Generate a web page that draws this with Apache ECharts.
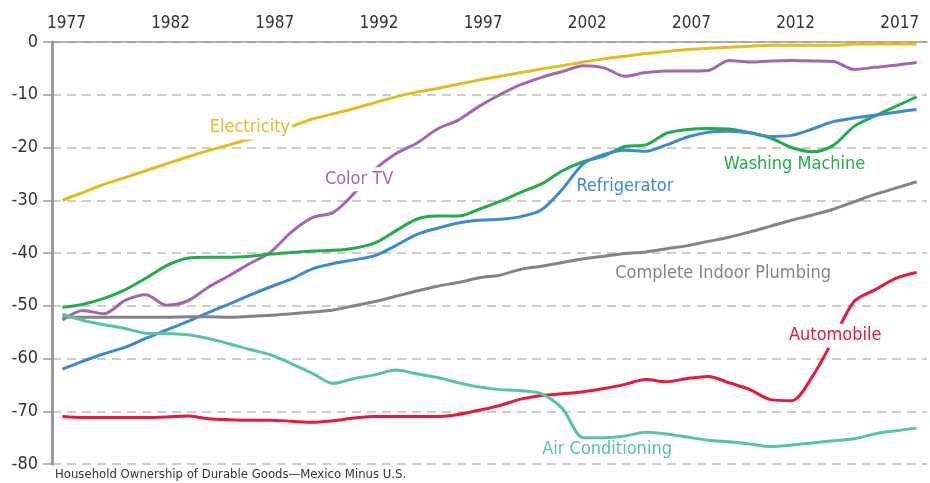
<!DOCTYPE html>
<html lang="en">
<head>
<meta charset="utf-8">
<script src="https://cdn.jsdelivr.net/npm/echarts@6/dist/echarts.min.js"></script>
<style>
  html, body { margin: 0; padding: 0; background: #fff; }
  #main { width: 930px; height: 483px; }
</style>
</head>
<body>
<div id="main"></div>
<script>
// years on the x axis
var years = ['1977','1978','1979','1980','1981','1982','1983','1984','1985','1986',
  '1987','1988','1989','1990','1991','1992','1993','1994','1995','1996',
  '1997','1998','1999','2000','2001','2002','2003','2004','2005','2006',
  '2007','2008','2009','2010','2011','2012','2013','2014','2015','2016',
  '2017','2018'];

// Mexico minus U.S., percentage points
var electricity = [-30.0,-28.5,-27.0,-25.7,-24.4,-23.1,-21.8,-20.6,-19.5,-18.4,
  -17.2,-16.0,-14.6,-13.6,-12.6,-11.5,-10.4,-9.5,-8.8,-8.0,
  -7.2,-6.5,-5.8,-5.1,-4.5,-3.8,-3.2,-2.7,-2.2,-1.8,
  -1.4,-1.2,-1.0,-0.8,-0.6,-0.6,-0.6,-0.6,-0.4,-0.4,
  -0.4,-0.4];
var colorTV = [-52.7,-50.9,-51.5,-49.0,-47.9,-49.9,-49.1,-46.5,-44.3,-42.0,
  -39.8,-36.0,-33.3,-32.3,-28.7,-24.2,-21.2,-19.2,-16.5,-14.8,
  -12.2,-10.0,-8.1,-6.7,-5.6,-4.5,-4.9,-6.5,-5.8,-5.5,
  -5.5,-5.4,-3.5,-3.8,-3.6,-3.5,-3.6,-3.7,-5.2,-4.8,
  -4.4,-3.9];
var washingMachine = [-50.3,-49.7,-48.6,-47.0,-44.8,-42.4,-41.0,-40.8,-40.8,-40.6,
  -40.2,-39.9,-39.6,-39.5,-39.1,-38.1,-35.8,-33.6,-33.0,-33.0,
  -31.7,-30.2,-28.5,-26.9,-24.4,-22.7,-21.6,-19.8,-19.5,-17.3,
  -16.6,-16.4,-16.5,-17.2,-18.2,-20.0,-20.8,-19.6,-16.0,-14.0,
  -12.2,-10.4];
var refrigerator = [-62.0,-60.5,-59.1,-57.9,-56.2,-54.6,-53.0,-51.3,-49.7,-48.0,
  -46.4,-44.9,-43.0,-42.0,-41.3,-40.5,-38.6,-36.5,-35.3,-34.3,
  -33.8,-33.6,-33.1,-31.8,-27.9,-23.1,-21.3,-20.5,-20.7,-19.5,
  -18.0,-17.1,-16.9,-17.2,-17.9,-17.7,-16.5,-15.1,-14.4,-13.9,
  -13.3,-12.8];
var plumbing = [-52.1,-52.2,-52.2,-52.2,-52.2,-52.2,-52.1,-52.1,-52.2,-52.0,
  -51.8,-51.5,-51.2,-50.8,-50.0,-49.2,-48.2,-47.2,-46.3,-45.6,
  -44.7,-44.2,-43.1,-42.5,-41.8,-41.1,-40.6,-40.1,-39.8,-39.2,
  -38.6,-37.8,-37.0,-36.0,-34.9,-33.8,-32.8,-31.7,-30.3,-28.9,
  -27.7,-26.5];
var automobile = [-71.0,-71.2,-71.2,-71.2,-71.2,-71.1,-70.9,-71.4,-71.6,-71.7,
  -71.7,-71.9,-72.1,-71.8,-71.3,-71.0,-71.0,-71.0,-71.0,-70.6,
  -69.8,-68.9,-67.7,-67.0,-66.7,-66.3,-65.7,-64.9,-64.0,-64.4,
  -63.8,-63.4,-64.6,-65.9,-67.8,-68.0,-63.4,-56.4,-49.2,-47.0,
  -44.8,-43.7];
var airConditioning = [-51.6,-52.8,-53.6,-54.3,-55.2,-55.3,-55.5,-56.2,-57.2,-58.3,
  -59.3,-61.0,-62.8,-64.7,-63.8,-63.1,-62.2,-62.9,-63.6,-64.6,
  -65.4,-65.9,-66.1,-66.7,-69.5,-75.0,-75.0,-74.7,-74.0,-74.3,
  -74.9,-75.5,-75.8,-76.2,-76.7,-76.4,-76.0,-75.6,-75.2,-74.3,
  -73.7,-73.2];

var FONT = '"Liberation Sans Narrow", "DejaVu Sans Condensed", "Liberation Sans", sans-serif';

// series name, data, colour, label [year, value, x offset, white box]
var lines = [
  ['Electricity', electricity, '#e2bd1e', ['1986', -16.2, 0, true]],
  ['Color TV', colorTV, '#a466b3', ['1991', -26.0, 5, true]],
  ['Washing Machine', washingMachine, '#22ad4b', ['2012', -23.2, 3, false]],
  ['Refrigerator', refrigerator, '#3b8bd0', ['2004', -27.3, 0, false]],
  ['Complete Indoor Plumbing', plumbing, '#848484', ['2009', -43.8, -6, false]],
  ['Automobile', automobile, '#e8193c', ['2014', -55.7, 2, true]],
  ['Air Conditioning', airConditioning, '#57c3a7', ['2003', -77.2, 3, false]]
];

var series = lines.map(function (l) {
  var lab = l[3];
  return {
    name: l[0],
    type: 'line',
    data: l[1],
    showSymbol: false,
    smooth: 0.3,
    lineStyle: { color: l[2], width: 3 },
    itemStyle: { color: l[2] },
    markPoint: {
      symbol: 'rect',
      symbolSize: 0,
      data: [{ coord: [lab[0], lab[1]] }],
      label: {
        show: true,
        position: 'inside',
        offset: [lab[2], 0],
        formatter: l[0],
        color: l[2],
        fontFamily: FONT,
        fontSize: 18,
        backgroundColor: lab[3] ? '#fff' : 'transparent',
        padding: [3, 2]
      }
    }
  };
});

var myChart = echarts.init(document.getElementById('main'));
myChart.setOption({
  animation: false,
  grid: { left: 52, right: 3, top: 42, bottom: 19 },
  xAxis: {
    type: 'category',
    position: 'top',
    data: years,
    boundaryGap: true,
    axisLine: { lineStyle: { color: '#9a9a9a', width: 1.5 } },
    axisTick: { interval: 0, length: 6, lineStyle: { color: '#9a9a9a', width: 1.2 } },
    axisLabel: {
      interval: 4,
      margin: 10,
      color: '#333',
      fontSize: 17,
      fontFamily: FONT,
      padding: [0, 0, 0, 8]
    },
    splitLine: { show: false }
  },
  yAxis: {
    type: 'value',
    min: -80,
    max: 0,
    interval: 10,
    axisLine: { show: true, lineStyle: { color: '#9a9a9a', width: 3 } },
    axisTick: { show: true, length: 9, lineStyle: { color: '#9a9a9a', width: 1.5 } },
    axisLabel: { margin: 14, color: '#333', fontSize: 18, fontFamily: FONT },
    splitLine: { show: true, lineStyle: { color: '#bdbdbd', width: 1.5, type: [9, 6] } }
  },
  graphic: [{
    type: 'text',
    left: 55,
    top: 468,
    style: {
      text: 'Household Ownership of Durable Goods\u2014Mexico Minus U.S.',
      fill: '#333',
      font: '13px ' + FONT
    }
  }],
  series: series
});
</script>
</body>
</html>
